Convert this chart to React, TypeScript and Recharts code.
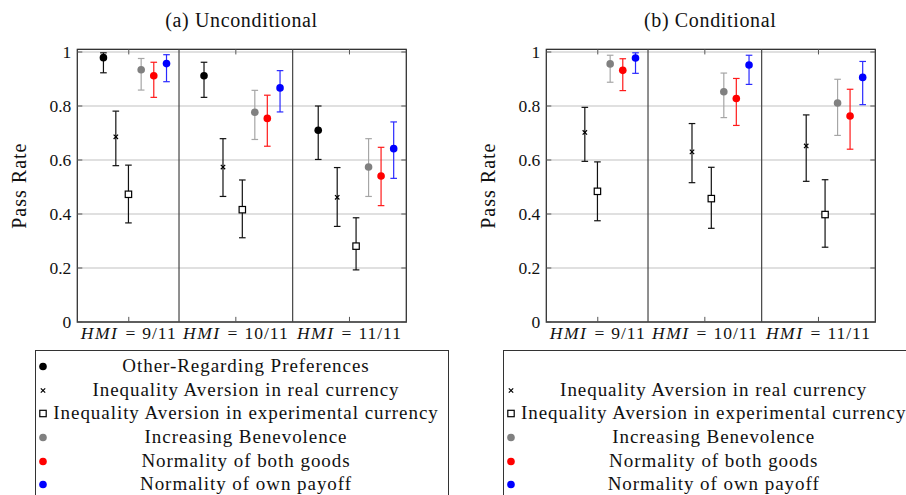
import React from "react";
import {
  CartesianGrid,
  ErrorBar,
  Label,
  ReferenceArea,
  ReferenceLine,
  Scatter,
  ScatterChart,
  XAxis,
  YAxis,
} from "recharts";

// HMI groups and where their ticks / separators sit on the numeric x axis
const hmiLabels = ["9/11", "10/11", "11/11"];
const hmiTicks = [1.058, 2, 3];
const groupDividers = [1.5, 2.5];
const yTicks = [0, 0.2, 0.4, 0.6, 0.8, 1];
const X_MIN = 0.605;
const X_MAX = 3.5;
const Y_MAX = 1.01;

// x position of each series inside the three HMI groups
const xOther = [0.835, 1.72, 2.725];
const xRealCur = [0.944, 1.887, 2.892];
const xExpCur = [1.055, 2.057, 3.058];
const xBenev = [1.167, 2.167, 3.168];
const xBothGoods = [1.278, 2.277, 3.278];
const xOwnPayoff = [1.39, 2.389, 3.389];

// pass rates as [estimate, lower, upper] per HMI group
const uncOther = [[0.979, 0.923, 0.997], [0.912, 0.832, 0.962], [0.71, 0.602, 0.8]];
const uncRealCur = [[0.686, 0.579, 0.781], [0.574, 0.465, 0.679], [0.462, 0.354, 0.572]];
const uncExpCur = [[0.473, 0.367, 0.581], [0.416, 0.312, 0.526], [0.281, 0.193, 0.386]];
const uncBenev = [[0.934, 0.859, 0.976], [0.777, 0.676, 0.858], [0.574, 0.465, 0.679]];
const uncBothGoods = [[0.912, 0.832, 0.962], [0.754, 0.651, 0.84], [0.541, 0.431, 0.647]];
const uncOwnPayoff = [[0.957, 0.89, 0.99], [0.867, 0.778, 0.931], [0.642, 0.532, 0.741]];

const conRealCur = [[0.702, 0.595, 0.795], [0.63, 0.516, 0.735], [0.652, 0.521, 0.767]];
const conExpCur = [[0.484, 0.375, 0.593], [0.457, 0.347, 0.573], [0.398, 0.277, 0.527]];
const conBenev = [[0.956, 0.888, 0.988], [0.853, 0.757, 0.922], [0.811, 0.691, 0.899]];
const conBothGoods = [[0.932, 0.857, 0.975], [0.828, 0.728, 0.902], [0.763, 0.64, 0.862]];
const conOwnPayoff = [[0.978, 0.921, 0.997], [0.952, 0.88, 0.988], [0.906, 0.805, 0.965]];

const FONT = "Liberation Serif";

type Kind = "dot" | "cross" | "square";

const SERIES = [
  { key: "other", name: "Other-Regarding Preferences", kind: "dot" as Kind, color: "#000", bar: "#111", xs: xOther },
  { key: "real", name: "Inequality Aversion in real currency", kind: "cross" as Kind, color: "#000", bar: "#111", xs: xRealCur },
  { key: "exp", name: "Inequality Aversion in experimental currency", kind: "square" as Kind, color: "#000", bar: "#111", xs: xExpCur },
  { key: "benev", name: "Increasing Benevolence", kind: "dot" as Kind, color: "#808080", bar: "#a6a6a6", xs: xBenev },
  { key: "both", name: "Normality of both goods", kind: "dot" as Kind, color: "#ff0000", bar: "#ff1a1a", xs: xBothGoods },
  { key: "own", name: "Normality of own payoff", kind: "dot" as Kind, color: "#0000ff", bar: "#2a2aff", xs: xOwnPayoff },
];

const uncValues: Record<string, number[][]> = {
  other: uncOther,
  real: uncRealCur,
  exp: uncExpCur,
  benev: uncBenev,
  both: uncBothGoods,
  own: uncOwnPayoff,
};

const conValues: Record<string, number[][]> = {
  real: conRealCur,
  exp: conExpCur,
  benev: conBenev,
  both: conBothGoods,
  own: conOwnPayoff,
};

const Marker = ({ kind, color, cx, cy }: { kind: Kind; color: string; cx: number; cy: number }) => {
  if (kind === "cross") {
    const s = 2.2;
    return (
      <g stroke={color} strokeWidth={1.2}>
        <line x1={cx - s} y1={cy - s} x2={cx + s} y2={cy + s} />
        <line x1={cx - s} y1={cy + s} x2={cx + s} y2={cy - s} />
      </g>
    );
  }
  if (kind === "square") {
    return <rect x={cx - 3.2} y={cy - 3.2} width={6.4} height={6.4} fill="#fff" stroke={color} strokeWidth={1.2} />;
  }
  return <circle cx={cx} cy={cy} r={3.8} fill={color} />;
};

const HmiTick = (props: any) => {
  const { x, y, payload } = props;
  const idx = hmiTicks.indexOf(payload.value);
  return (
    <text x={x} y={y + 17} textAnchor="middle" fontFamily={FONT} fontSize={17.5} fill="#111">
      <tspan fontStyle="italic" letterSpacing={1.5}>HMI</tspan>
      <tspan dx={7}>=</tspan>
      <tspan dx={7} letterSpacing={1}>{hmiLabels[idx]}</tspan>
    </text>
  );
};

const PassRateLabel = (props: any) => {
  const { viewBox } = props;
  const x = viewBox.x + 19;
  const y = viewBox.y + viewBox.height / 2;
  return (
    <text
      x={x}
      y={y}
      transform={`rotate(-90 ${x} ${y})`}
      textAnchor="middle"
      dominantBaseline="central"
      fontFamily={FONT}
      fontSize={20}
      letterSpacing={1}
      fill="#111"
    >
      Pass Rate
    </text>
  );
};

const Panel = ({ title, values, left }: { title: string; values: Record<string, number[][]>; left: number }) => {
  const active = SERIES.filter((s) => values[s.key]);
  const tickLen = 0.019;
  const tickLenX = 0.044;
  return (
    <div style={{ position: "absolute", left, top: 0, width: 420, height: 350 }}>
      <div
        style={{
          position: "absolute",
          left: 77,
          width: 329,
          top: 9,
          textAlign: "center",
          fontFamily: FONT,
          fontSize: 20,
          letterSpacing: 0.65,
          color: "#111",
          whiteSpace: "nowrap",
        }}
      >
        {title}
      </div>
      <ScatterChart width={420} height={350} margin={{ top: 49.3, right: 13.7, bottom: 0, left: 0 }}>
        <CartesianGrid horizontal vertical={false} stroke="#d6d6d6" strokeWidth={1.4} />
        <XAxis
          type="number"
          dataKey="x"
          domain={[X_MIN, X_MAX]}
          ticks={hmiTicks}
          interval={0}
          allowDataOverflow
          height={28}
          axisLine={false}
          tickLine={false}
          tickSize={0}
          tickMargin={0}
          tick={<HmiTick />}
        />
        <YAxis
          type="number"
          dataKey="y"
          domain={[0, Y_MAX]}
          ticks={yTicks}
          allowDataOverflow
          width={77.3}
          axisLine={false}
          tickLine={false}
          tickSize={0}
          tickMargin={6}
          tick={{ fontFamily: FONT, fontSize: 17.5, fill: "#111" }}
        >
          <Label content={<PassRateLabel />} />
        </YAxis>
        {groupDividers.map((d) => (
          <ReferenceLine key={`div-${d}`} x={d} stroke="#444" strokeWidth={1.2} />
        ))}
        {hmiTicks.map((t) => (
          <ReferenceLine key={`tb-${t}`} segment={[{ x: t, y: 0 }, { x: t, y: tickLen }]} stroke="#555" />
        ))}
        {hmiTicks.map((t) => (
          <ReferenceLine key={`tt-${t}`} segment={[{ x: t, y: Y_MAX - tickLen }, { x: t, y: Y_MAX }]} stroke="#555" />
        ))}
        {yTicks.map((v) => (
          <ReferenceLine key={`tl-${v}`} segment={[{ x: X_MIN, y: v }, { x: X_MIN + tickLenX, y: v }]} stroke="#555" />
        ))}
        {yTicks.map((v) => (
          <ReferenceLine key={`tr-${v}`} segment={[{ x: X_MAX - tickLenX, y: v }, { x: X_MAX, y: v }]} stroke="#555" />
        ))}
        <ReferenceArea x1={X_MIN} x2={X_MAX} y1={0} y2={Y_MAX} fill="none" stroke="#333" strokeWidth={1.3} />
        {active.map((s) => {
          const vals = values[s.key];
          const data = s.xs.map((x, i) => ({
            x,
            y: vals[i][0],
            err: [vals[i][0] - vals[i][1], vals[i][2] - vals[i][0]],
          }));
          return (
            <Scatter
              key={s.key}
              name={s.name}
              data={data}
              fill={s.color}
              isAnimationActive={false}
              shape={(p: any) => <Marker kind={s.kind} color={s.color} cx={p.cx} cy={p.cy} />}
            >
              <ErrorBar dataKey="err" direction="y" width={3.3} stroke={s.bar} strokeWidth={1.2} />
            </Scatter>
          );
        })}
      </ScatterChart>
    </div>
  );
};

const LegendBox = ({ left, keys }: { left: number; keys: string[] }) => (
  <div
    style={{
      position: "absolute",
      left,
      top: 350,
      width: 414,
      height: 170,
      border: "1.3px solid #333",
      boxSizing: "border-box",
      paddingTop: 3,
      fontFamily: FONT,
      fontSize: 19,
      letterSpacing: 0.95,
      color: "#111",
      background: "#fff",
    }}
  >
    {SERIES.map((s) => (
      <div key={s.key} style={{ display: "flex", height: 23.7, lineHeight: "23.7px", whiteSpace: "nowrap" }}>
        <svg width={15} height={23.7} style={{ flex: "none" }}>
          {keys.includes(s.key) && <Marker kind={s.kind} color={s.color} cx={7} cy={12.5} />}
        </svg>
        <div style={{ width: 390, flex: "none", textAlign: "center", visibility: keys.includes(s.key) ? "visible" : "hidden" }}>
          {s.name}
        </div>
      </div>
    ))}
  </div>
);

export default function App() {
  return (
    <div
      style={{
        position: "absolute",
        left: 0,
        top: 0,
        width: 906,
        height: 495,
        overflow: "hidden",
        background: "#fff",
      }}
    >
      <Panel title="(a) Unconditional" values={uncValues} left={0} />
      <Panel title="(b) Conditional" values={conValues} left={468.7} />
      <LegendBox left={35} keys={Object.keys(uncValues)} />
      <LegendBox left={502.7} keys={Object.keys(conValues)} />
    </div>
  );
}
